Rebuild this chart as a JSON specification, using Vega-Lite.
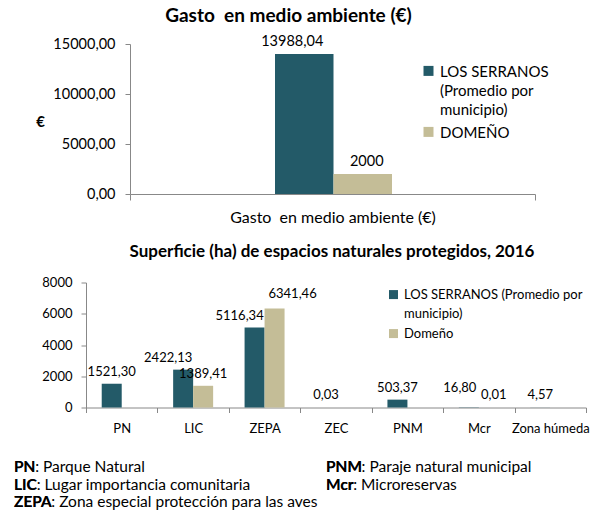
{
  "$schema": "https://vega.github.io/schema/vega-lite/v6.json",
  "padding": {"left": 14, "top": 7, "right": 0, "bottom": 0},
  "spacing": 17.5,
  "config": {
    "font": "Lato",
    "locale": {"number": {"decimal": ",", "thousands": ".", "grouping": [3], "currency": ["", " €"]}},
    "view": {"stroke": null},
    "axis": {"grid": false, "domainColor": "#888888", "tickColor": "#888888", "labelColor": "#000000", "labelFont": "Lato", "titleFont": "Lato", "titleColor": "#000000"},
    "legend": {"labelFont": "Lato", "labelColor": "#000000", "padding": 0, "symbolStrokeWidth": 0, "labelLimit": 400},
    "title": {"font": "Lato", "color": "#000000", "fontWeight": "bold"},
    "text": {"font": "Lato", "color": "#000000"},
    "style": {"guide-label": {"lineHeight": 19}}
  },
  "resolve": {"scale": {"color": "independent", "xOffset": "independent", "x": "independent", "y": "independent"}, "legend": {"color": "independent"}},
  "vconcat": [
    {
      "width": 449,
      "height": 150,
      "title": {"text": "Gasto \u00a0en medio ambiente (€)", "fontSize": 19, "dx": -22, "offset": 8},
      "data": {"values": [
        {"concepto": "Gasto \u00a0en medio ambiente (€)", "serie": "LOS SERRANOS (Promedio por municipio)", "valor": 13988.04},
        {"concepto": "Gasto \u00a0en medio ambiente (€)", "serie": "DOMEÑO", "valor": 2000}
      ]},
      "encoding": {
        "x": {"field": "concepto", "type": "nominal", "scale": {"type": "band", "range": [44, 449], "paddingInner": 0, "paddingOuter": 0},
              "axis": {"title": null, "labelAngle": 0, "tickBand": "extent", "labelFontSize": 16, "labelPadding": 9, "tickSize": 6, "labelLimit": 400}},
        "xOffset": {"field": "serie", "type": "nominal", "scale": {"domain": ["LOS SERRANOS (Promedio por municipio)", "DOMEÑO"], "range": [145, 262]}},
        "y": {"field": "valor", "type": "quantitative", "scale": {"domain": [0, 15000], "nice": false},
              "axis": {"values": [0, 5000, 10000, 15000], "format": ".2f", "offset": -44, "labelFontSize": 14.5, "labelPadding": 10, "tickSize": 5,
                       "title": "€", "titleAngle": 0, "titleX": -90, "titleY": 77, "titleAlign": "center", "titleBaseline": "middle", "titleFontSize": 15, "titleFontWeight": "bold"}}
      },
      "layer": [
        {
          "mark": {"type": "bar"},
          "encoding": {
            "color": {"field": "serie", "type": "nominal",
                      "scale": {"domain": ["LOS SERRANOS (Promedio por municipio)", "DOMEÑO"], "range": ["#235A68", "#C4BD97"]},
                      "legend": {"orient": "none", "legendX": 335, "legendY": 13, "title": null, "labelFontSize": 15, "symbolSize": 100,
                                 "symbolType": "M-1,0.28H1V2.28H-1Z", "labelBaseline": "top", "rowPadding": -16,
                                 "labelExpr": "datum.label == 'LOS SERRANOS (Promedio por municipio)' ? ['LOS SERRANOS', '(Promedio por', 'municipio)'] : datum.label"}}
          }
        },
        {
          "transform": [{"filter": "datum.serie != 'DOMEÑO'"}],
          "mark": {"type": "text", "baseline": "alphabetic", "dy": -8, "dx": -12, "fontSize": 14.5},
          "encoding": {"text": {"field": "valor", "type": "quantitative", "format": ".2~f"}}
        },
        {
          "transform": [{"filter": "datum.serie == 'DOMEÑO'"}],
          "mark": {"type": "text", "baseline": "alphabetic", "dy": -8, "dx": 4, "fontSize": 14.5},
          "encoding": {"text": {"field": "valor", "type": "quantitative", "format": ".2~f"}}
        }
      ]
    },
    {
      "width": 500,
      "height": 125,
      "title": {"text": "Superficie (ha) de espacios naturales protegidos, 2016", "fontSize": 17, "dx": -4, "offset": 16},
      "data": {"values": [
        {"categoria": "PN", "serie": "LOS SERRANOS (Promedio por municipio)", "valor": 1521.30},
        {"categoria": "LIC", "serie": "LOS SERRANOS (Promedio por municipio)", "valor": 2422.13},
        {"categoria": "LIC", "serie": "Domeño", "valor": 1389.41},
        {"categoria": "ZEPA", "serie": "LOS SERRANOS (Promedio por municipio)", "valor": 5116.34},
        {"categoria": "ZEPA", "serie": "Domeño", "valor": 6341.46},
        {"categoria": "ZEC", "serie": "LOS SERRANOS (Promedio por municipio)", "valor": 0.03},
        {"categoria": "PNM", "serie": "LOS SERRANOS (Promedio por municipio)", "valor": 503.37},
        {"categoria": "Mcr", "serie": "LOS SERRANOS (Promedio por municipio)", "valor": 16.80},
        {"categoria": "Mcr", "serie": "Domeño", "valor": 0.01},
        {"categoria": "Zona húmeda", "serie": "LOS SERRANOS (Promedio por municipio)", "valor": 4.57}
      ]},
      "encoding": {
        "x": {"field": "categoria", "type": "nominal",
              "scale": {"domain": ["PN", "LIC", "ZEPA", "ZEC", "PNM", "Mcr", "Zona húmeda"], "paddingInner": 0, "paddingOuter": 0},
              "axis": {"title": null, "labelAngle": 0, "tickBand": "extent", "labelFontSize": 13, "labelPadding": 10, "tickSize": 5}},
        "xOffset": {"field": "serie", "type": "nominal", "scale": {"domain": ["LOS SERRANOS (Promedio por municipio)", "Domeño"], "paddingInner": 0, "paddingOuter": 0.786}},
        "y": {"field": "valor", "type": "quantitative", "scale": {"domain": [0, 8000], "nice": false},
              "axis": {"values": [0, 2000, 4000, 6000, 8000], "format": "d", "labelFontSize": 13, "labelPadding": 9, "tickSize": 5, "title": null}}
      },
      "layer": [
        {
          "mark": {"type": "bar"},
          "encoding": {
            "color": {"field": "serie", "type": "nominal",
                      "scale": {"domain": ["LOS SERRANOS (Promedio por municipio)", "Domeño"], "range": ["#235A68", "#C4BD97"]},
                      "legend": {"orient": "none", "legendX": 301, "legendY": 0, "title": null, "labelFontSize": 13, "symbolSize": 81,
                                 "symbolType": "M-1,0.24H1V2.24H-1Z", "labelBaseline": "top", "rowPadding": -10,
                                 "labelExpr": "datum.label == 'LOS SERRANOS (Promedio por municipio)' ? ['LOS SERRANOS (Promedio por', 'municipio)'] : datum.label"}}
          }
        },
        {
          "transform": [{"filter": "!((datum.categoria == 'LIC' || datum.categoria == 'ZEPA' || datum.categoria == 'Mcr') && datum.serie != 'Domeño') && !((datum.categoria == 'ZEPA' || datum.categoria == 'Mcr') && datum.serie == 'Domeño')"}],
          "mark": {"type": "text", "baseline": "alphabetic", "dy": -8, "fontSize": 13},
          "encoding": {"text": {"field": "valor", "type": "quantitative", "format": ".2f"}}
        },
        {
          "transform": [{"filter": "(datum.categoria == 'LIC' || datum.categoria == 'ZEPA') && datum.serie != 'Domeño'"}],
          "mark": {"type": "text", "baseline": "alphabetic", "dy": -8, "dx": -15, "fontSize": 13},
          "encoding": {"text": {"field": "valor", "type": "quantitative", "format": ".2f"}}
        },
        {
          "transform": [{"filter": "datum.categoria == 'ZEPA' && datum.serie == 'Domeño'"}],
          "mark": {"type": "text", "baseline": "alphabetic", "dy": -10, "dx": 18, "fontSize": 13},
          "encoding": {"text": {"field": "valor", "type": "quantitative", "format": ".2f"}}
        },
        {
          "transform": [{"filter": "datum.categoria == 'Mcr' && datum.serie != 'Domeño'"}],
          "mark": {"type": "text", "baseline": "alphabetic", "dy": -15, "dx": -9, "fontSize": 13},
          "encoding": {"text": {"field": "valor", "type": "quantitative", "format": ".2f"}}
        },
        {
          "transform": [{"filter": "datum.categoria == 'Mcr' && datum.serie == 'Domeño'"}],
          "mark": {"type": "text", "baseline": "alphabetic", "dy": -8, "dx": 5, "fontSize": 13},
          "encoding": {"text": {"field": "valor", "type": "quantitative", "format": ".2f"}}
        }
      ]
    },
    {
      "width": 500,
      "height": 56,
      "data": {"values": [
        {"sigla": "PN", "texto": "PN: Parque Natural", "columna": "izquierda"},
        {"sigla": "LIC", "texto": "LIC: Lugar importancia comunitaria", "columna": "izquierda"},
        {"sigla": "ZEPA", "texto": "ZEPA: Zona especial protección para las aves", "columna": "izquierda"},
        {"sigla": "PNM", "texto": "PNM: Paraje natural municipal", "columna": "derecha"},
        {"sigla": "Mcr", "texto": "Mcr: Microreservas", "columna": "derecha"}
      ]},
      "encoding": {
        "x": {"field": "columna", "type": "nominal", "scale": {"type": "point", "domain": ["izquierda", "derecha"], "range": [-72, 240], "padding": 0}, "axis": null}
      },
      "layer": [
        {
          "transform": [{"filter": "datum.columna == 'izquierda'"}],
          "mark": {"type": "text", "align": "left", "baseline": "middle", "fontSize": 15.5},
          "encoding": {"y": {"field": "sigla", "type": "nominal", "scale": {"type": "point", "domain": ["PN", "LIC", "ZEPA"], "range": [14, 49], "padding": 0}, "axis": null},
                       "text": {"field": "texto"}}
        },
        {
          "transform": [{"filter": "datum.columna == 'izquierda'"}],
          "mark": {"type": "text", "align": "left", "baseline": "middle", "fontSize": 15.5, "fontWeight": "bold"},
          "encoding": {"y": {"field": "sigla", "type": "nominal", "scale": {"type": "point", "domain": ["PN", "LIC", "ZEPA"], "range": [14, 49], "padding": 0}, "axis": null},
                       "text": {"field": "sigla"}}
        },
        {
          "transform": [{"filter": "datum.columna == 'derecha'"}],
          "mark": {"type": "text", "align": "left", "baseline": "middle", "fontSize": 15.5},
          "encoding": {"y": {"field": "sigla", "type": "nominal", "scale": {"type": "point", "domain": ["PNM", "Mcr"], "range": [14, 31.5], "padding": 0}, "axis": null},
                       "text": {"field": "texto"}}
        },
        {
          "transform": [{"filter": "datum.columna == 'derecha'"}],
          "mark": {"type": "text", "align": "left", "baseline": "middle", "fontSize": 15.5, "fontWeight": "bold"},
          "encoding": {"y": {"field": "sigla", "type": "nominal", "scale": {"type": "point", "domain": ["PNM", "Mcr"], "range": [14, 31.5], "padding": 0}, "axis": null},
                       "text": {"field": "sigla"}}
        }
      ],
      "resolve": {"scale": {"y": "independent"}}
    }
  ]
}
